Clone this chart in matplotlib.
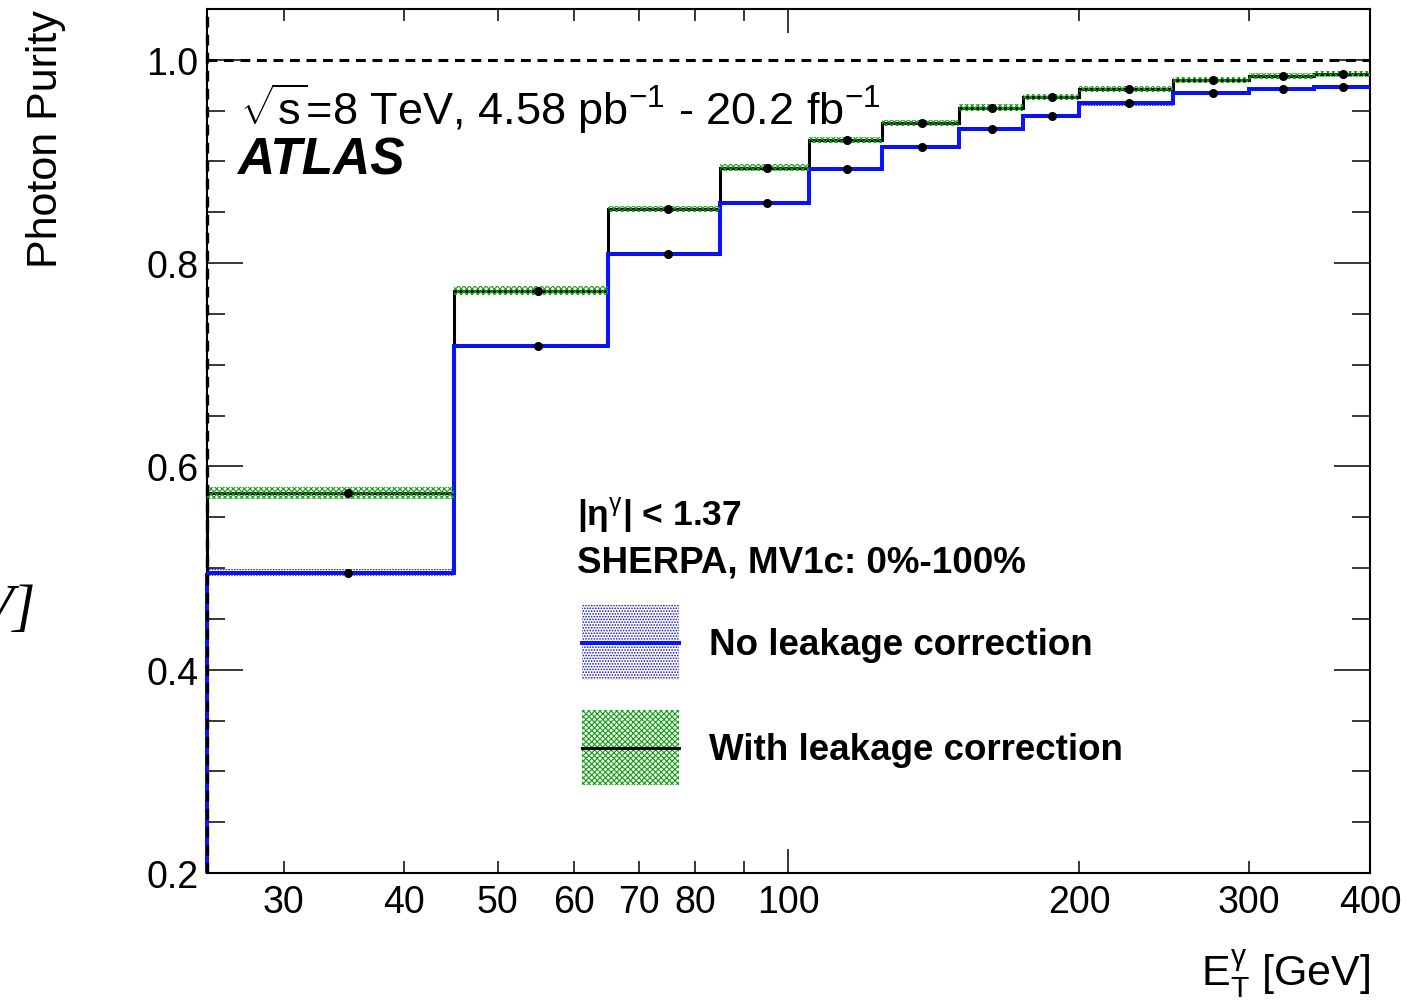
import matplotlib
matplotlib.use("Agg")
import matplotlib.pyplot as plt
from matplotlib.patches import Patch
from matplotlib.lines import Line2D
from matplotlib.legend_handler import HandlerLine2D
from matplotlib.ticker import FixedLocator, FuncFormatter, MultipleLocator

plt.rcParams['font.family'] = ['Liberation Sans', 'DejaVu Sans']
plt.rcParams['mathtext.fontset'] = 'custom'
plt.rcParams['mathtext.rm'] = 'Liberation Sans'
plt.rcParams['mathtext.it'] = 'Liberation Sans:italic'
plt.rcParams['mathtext.bf'] = 'Liberation Sans:bold'
plt.rcParams['hatch.linewidth'] = 0.8

# E_T^gamma bin edges [GeV]
bin_edges = [25, 45, 65, 85, 105, 125, 150, 175, 200, 250, 300, 350, 400]

# purity without leakage correction (blue) and its uncertainty
purity_no_corr = [0.495, 0.718, 0.809, 0.859, 0.893, 0.914, 0.932, 0.945, 0.957, 0.967, 0.971, 0.973]
err_no_corr = [0.004, 0.002, 0.002, 0.002, 0.002, 0.002, 0.002, 0.002, 0.002, 0.002, 0.002, 0.002]

# purity with leakage correction (black) and its uncertainty
purity_corr = [0.574, 0.773, 0.853, 0.894, 0.921, 0.938, 0.953, 0.963, 0.971, 0.980, 0.984, 0.986]
err_corr = [0.006, 0.004, 0.003, 0.003, 0.003, 0.003, 0.003, 0.003, 0.003, 0.003, 0.003, 0.003]

x_minor_ticks = [30, 40, 50, 60, 70, 80, 90, 200, 300, 400]
x_major_ticks = [100]

YMIN, YMAX = 0.2, 1.05


class CenteredLine(HandlerLine2D):
    # put the legend line in the middle of the hatched box
    def create_artists(self, legend, orig_handle, xdescent, ydescent, width, height,
                       fontsize, trans):
        arts = super().create_artists(legend, orig_handle, xdescent, ydescent, width,
                                      height, fontsize, trans)
        for a in arts:
            a.set_ydata([height / 2 - ydescent] * len(a.get_xdata()))
        return arts


def draw_hist(ax, values, errs, line_color, band_color, hatch, lw):
    # uncertainty band (hatched, above the line like in ROOT)
    lo = [v - e for v, e in zip(values, errs)]
    hi = [v + e for v, e in zip(values, errs)]
    ax.stairs(hi, bin_edges, baseline=lo, fill=True, facecolor='none',
              edgecolor=band_color, hatch=hatch, linewidth=0, zorder=4)
    # histogram line, starting from the bottom of the frame
    ax.stairs(values, bin_edges, baseline=None, color=line_color, linewidth=lw, zorder=3)
    ax.vlines(bin_edges[0], YMIN, values[0], color=line_color, linewidth=lw,
              zorder=3, clip_on=False)
    centers = [(a + b) / 2 for a, b in zip(bin_edges[:-1], bin_edges[1:])]
    ax.plot(centers, values, 'o', color='black', markersize=5.5, zorder=6)


def main():
    fig = plt.figure(figsize=(14.22, 10.04), dpi=100)
    ax = fig.add_axes([0.1456, 0.1295, 0.8178, 0.8606])

    draw_hist(ax, purity_corr, err_corr, 'black', '#10a010', 'xxxxxx', 2.2)
    draw_hist(ax, purity_no_corr, err_no_corr, '#0a14ff', '#1010c0', '......', 2.9)

    dash = (0, (3.2, 2.2))
    ax.axhline(1.0, color='black', linestyle=dash, linewidth=2.2, zorder=7)
    ax.axvline(bin_edges[0], color='black', linestyle=dash, linewidth=2.4, zorder=7,
               clip_on=False)

    ax.set_xscale('log')
    ax.set_xlim(bin_edges[0], bin_edges[-1])
    ax.set_ylim(YMIN, YMAX)

    ax.xaxis.set_major_locator(FixedLocator(x_major_ticks))
    ax.xaxis.set_minor_locator(FixedLocator(x_minor_ticks))
    ax.xaxis.set_major_formatter(FuncFormatter(lambda v, p: f"{v:g}"))
    ax.xaxis.set_minor_formatter(FuncFormatter(lambda v, p: '' if v == 90 else f"{v:g}"))
    ax.yaxis.set_major_locator(MultipleLocator(0.2))
    ax.yaxis.set_minor_locator(MultipleLocator(0.05))
    ax.yaxis.set_major_formatter(FuncFormatter(lambda v, p: f"{v:.1f}"))

    ax.tick_params(which='both', direction='in', top=True, right=True, width=1.1, labelsize=27)
    ax.tick_params(axis='y', which='major', length=26, pad=6)
    ax.tick_params(axis='y', which='minor', length=13)
    ax.tick_params(axis='x', which='major', length=17, pad=8)
    ax.tick_params(axis='x', which='minor', length=8.6, pad=8)
    for s in ax.spines.values():
        s.set_linewidth(1.5)

    ax.set_ylabel("Photon Purity", fontsize=31, loc='top')
    ax.yaxis.set_label_coords(-0.121, 1.0)
    ax.set_xlabel(r"E$_{\mathrm{T}}^{\mathrm{\gamma}}$ [GeV]", fontsize=31, loc='right')
    ax.xaxis.set_label_coords(1.0, -0.085)

    ax.text(0.0284, 0.867, r"$\sqrt{\mathrm{s}}$=8 TeV, 4.58 pb$^{-1}$ - 20.2 fb$^{-1}$",
            transform=ax.transAxes, fontsize=32.5, va='baseline')
    ax.text(0.026, 0.809, "ATLAS", transform=ax.transAxes, fontsize=37,
            fontweight='bold', fontstyle='italic', va='baseline')
    ax.text(0.318, 0.404, r"|η$^{\mathrm{\gamma}}$| < 1.37", transform=ax.transAxes,
            fontsize=25.5, fontweight='bold', va='baseline')
    ax.text(0.318, 0.349, "SHERPA, MV1c: 0%-100%", transform=ax.transAxes,
            fontsize=26.5, fontweight='bold', va='baseline')

    blue_box = Patch(facecolor='none', edgecolor='#1010c0', hatch='......', linewidth=0)
    green_box = Patch(facecolor='none', edgecolor='#10a010', hatch='xxxxxx', linewidth=0)
    blue_line = Line2D([], [], color='#0a14ff', linewidth=2.9)
    black_line = Line2D([], [], color='black', linewidth=2.2)
    leg = ax.legend([(blue_box, blue_line), (green_box, black_line)],
                    ["No leakage correction", "With leakage correction"],
                    handler_map={Line2D: CenteredLine()},
                    loc='upper left', bbox_to_anchor=(0.3224, 0.31), frameon=False,
                    prop={'size': 26.5, 'weight': 'bold'}, handlelength=2.64,
                    handleheight=2.76, labelspacing=0.82, handletextpad=0.8,
                    borderpad=0, borderaxespad=0)
    leg.set_zorder(8)

    # clipped fragment of a neighbouring panel's label
    fig.text(36 / 1422, 1 - 610 / 1004, "V]", fontsize=42, family='Liberation Serif',
             fontstyle='italic', ha='right', va='center')

    fig.savefig("out.png", dpi=100)


if __name__ == "__main__":
    main()
